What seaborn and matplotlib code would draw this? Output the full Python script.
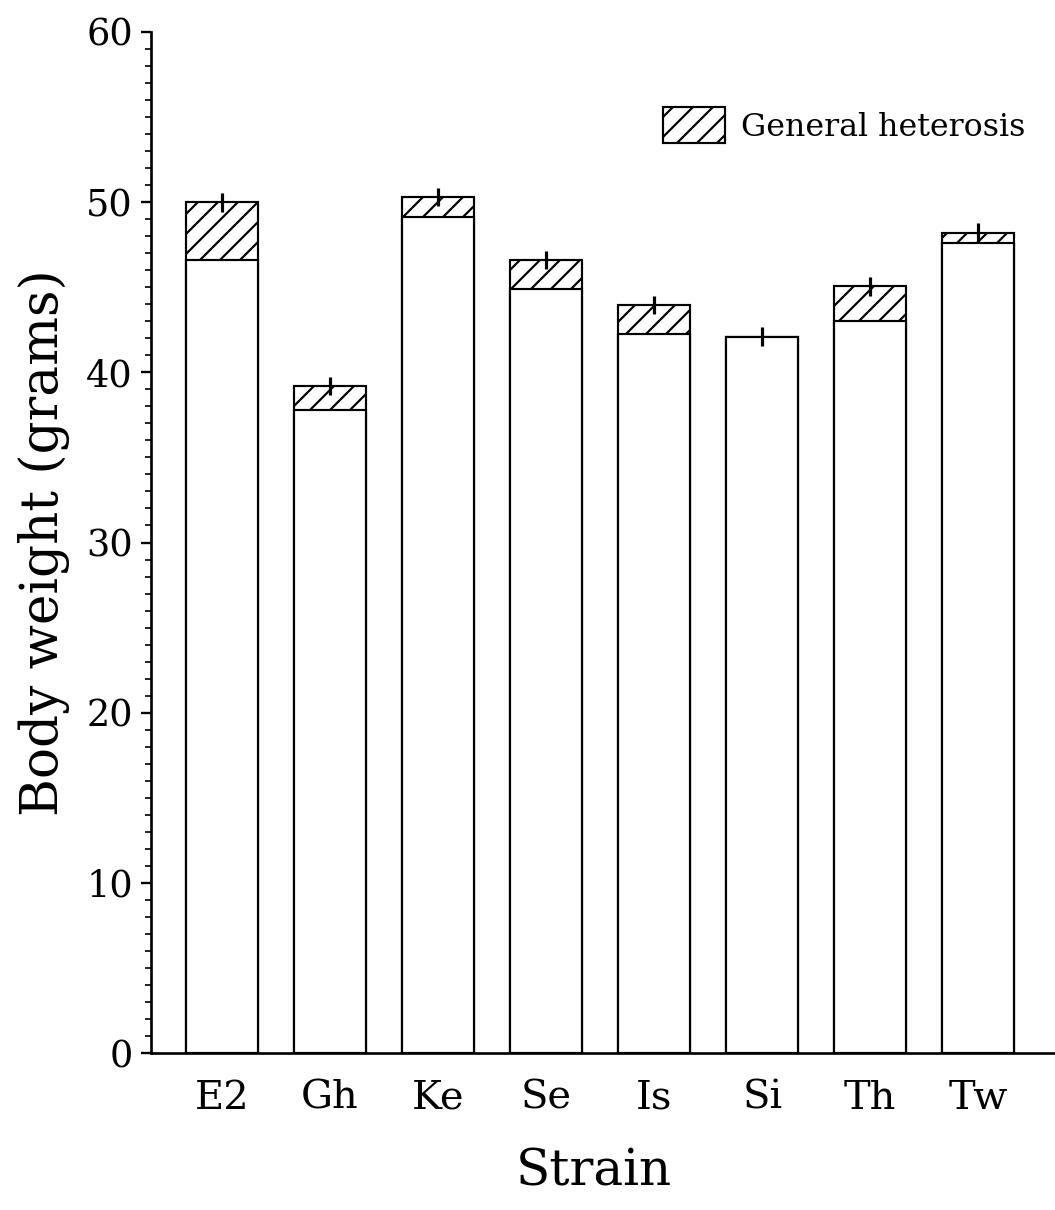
import matplotlib
matplotlib.use("Agg")
import matplotlib.pyplot as plt
from matplotlib.patches import Patch
from matplotlib.ticker import MultipleLocator
import pandas as pd
import seaborn as sns

# Mean body weight of each strain: purebred level plus the general heterosis gain
strains = ["E2", "Gh", "Ke", "Se", "Is", "Si", "Th", "Tw"]
purebred = [46.6, 37.8, 49.1, 44.9, 42.25, 42.1, 43.0, 47.6]
heterosis = [3.4, 1.4, 1.2, 1.7, 1.7, 0.0, 2.05, 0.6]
std_error = [0.55, 0.55, 0.55, 0.55, 0.55, 0.55, 0.55, 0.55]
y_ticks = [0, 10, 20, 30, 40, 50, 60]

df = pd.DataFrame({
    "Strain": strains,
    "base": purebred,
    "total": [b + h for b, h in zip(purebred, heterosis)],
    "se": std_error,
})

sns.set_style("ticks")
plt.rcParams["font.family"] = ["DejaVu Serif"]
plt.rcParams["hatch.linewidth"] = 1.3
plt.rcParams["hatch.color"] = "black"
plt.rcParams["text.color"] = "black"
plt.rcParams["axes.labelcolor"] = "black"
plt.rcParams["xtick.color"] = "black"
plt.rcParams["ytick.color"] = "black"
plt.rcParams["axes.edgecolor"] = "black"

DPI = 120
fig = plt.figure(figsize=(1055 / DPI, 1210 / DPI), dpi=DPI)
ax = fig.add_axes([151 / 1055, 1 - 1053 / 1210, 1 - 151 / 1055, (1053 - 32) / 1210])

bar_w = 0.67
# full height (hatched heterosis part shows above the purebred bar)
sns.barplot(data=df, x="Strain", y="total", order=strains, color="white",
            edgecolor="black", linewidth=1.3, width=bar_w, hatch="//",
            errorbar=None, saturation=1, ax=ax)
# purebred level in plain white
sns.barplot(data=df, x="Strain", y="base", order=strains, color="white",
            edgecolor="black", linewidth=1.3, width=bar_w,
            errorbar=None, saturation=1, ax=ax)

ax.errorbar(x=list(range(len(strains))), y=df["total"], yerr=df["se"],
            fmt="none", ecolor="black", elinewidth=1.9, capsize=0, zorder=5)

ax.set_xlim(-0.657, 7.71)
ax.set_ylim(0, 60)
ax.set_yticks(y_ticks)
ax.yaxis.set_minor_locator(MultipleLocator(1))

sns.despine(ax=ax)
ax.spines["left"].set_linewidth(1.6)
ax.spines["bottom"].set_linewidth(1.6)

ax.tick_params(axis="y", which="major", direction="out", length=6, width=1.4,
               labelsize=22, pad=5)
ax.tick_params(axis="y", which="minor", direction="out", length=3.5, width=1.0)
ax.tick_params(axis="x", which="both", length=0, labelsize=24, pad=16)

ax.set_xlabel("Strain", fontsize=30)
ax.xaxis.set_label_coords((594 - 151) / 904, -0.092)
ax.set_ylabel("Body weight (grams)", fontsize=31)
ax.yaxis.set_label_coords(-0.09, 0.5)

handle = Patch(facecolor="white", edgecolor="black", hatch="//", linewidth=1.3)
fig.legend([handle], ["General heterosis"], loc="center left",
           bbox_to_anchor=(663 / 1055, 1 - 125 / 1210), frameon=False,
           fontsize=19, handlelength=1.95, handleheight=1.35,
           handletextpad=0.5, borderpad=0, borderaxespad=0)

fig.savefig("out.png", dpi=DPI, facecolor="white")
